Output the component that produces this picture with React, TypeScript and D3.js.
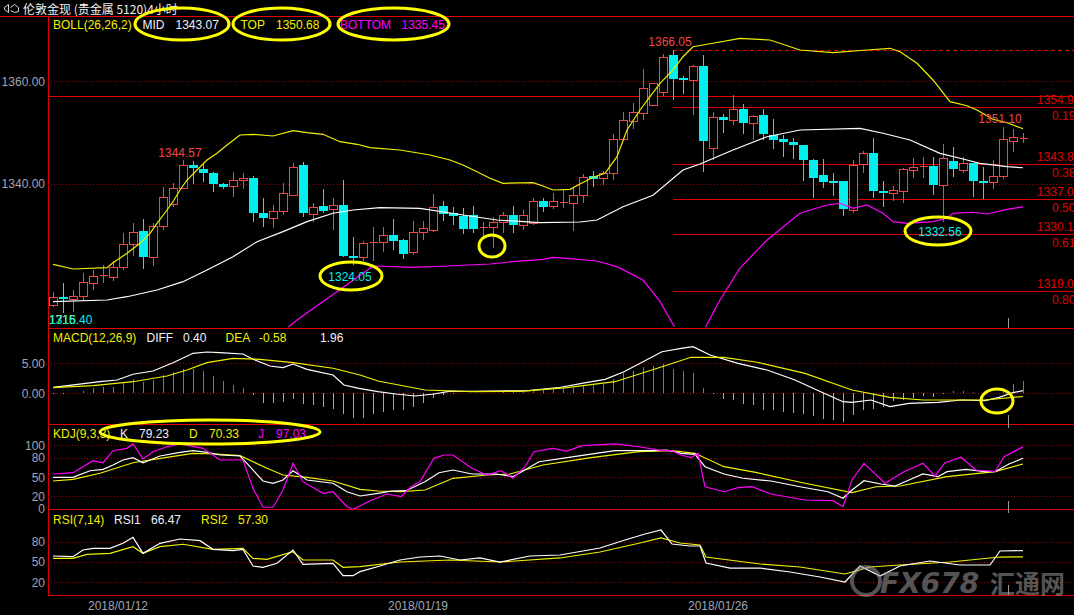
import React, { useEffect } from 'react';
import * as d3 from 'd3';

const W = 1074, H = 615;

// ---------- candles (4h) ----------
const openP = [1316.2,1317.8,1317.6,1317.9,1320.7,1321.9,1321.8,1323.7,1328.2,1330.75,1325.7,1331.8,1336.0,1339.1,1343.6,1342.8,1342.05,1339.9,1339.4,1340.6,1341.0,1334.2,1333.2,1334.6,1337.8,1343.6,1334.2,1335.6,1335.0,1335.8,1325.9,1325.7,1328.35,1328.5,1330.0,1329.0,1326.6,1330.5,1330.9,1335.6,1334.3,1333.7,1333.9,1331.5,1331.6,1332.5,1333.9,1331.9,1332.3,1336.6,1335.5,1336.3,1336.3,1337.6,1341.5,1341.0,1342.0,1348.6,1352.3,1353.8,1355.3,1357.9,1365.1,1360.5,1360.2,1362.9,1346.9,1352.9,1352.3,1354.5,1351.75,1353.4,1349.5,1348.7,1348.05,1347.5,1344.6,1341.7,1340.5,1340.4,1334.8,1343.75,1345.9,1338.55,1338.1,1338.6,1342.8,1343.2,1343.4,1339.6,1344.3,1342.5,1343.95,1340.4,1340.4,1341.3,1348.2,1348.8];
const highP = [1318.8,1320.6,1319.2,1322.5,1323.1,1324.1,1324.8,1330.3,1332.3,1333.1,1332.3,1339.3,1340.05,1344.57,1344.4,1343.75,1342.3,1340.05,1342.2,1342.0,1341.5,1337.1,1335.8,1340.05,1344.0,1344.1,1336.15,1338.9,1337.1,1340.6,1329.6,1328.7,1331.6,1331.5,1333.0,1329.1,1332.6,1332.6,1338.0,1336.5,1335.4,1335.2,1335.6,1332.4,1333.4,1334.4,1335.7,1334.8,1337.1,1337.1,1338.2,1338.9,1339.1,1341.9,1342.45,1342.5,1349.6,1354.0,1355.65,1362.3,1359.6,1365.3,1366.05,1361.0,1363.2,1365.1,1354.0,1353.6,1357.3,1355.5,1353.4,1354.5,1352.6,1349.5,1348.8,1347.5,1344.7,1344.7,1342.1,1340.4,1344.6,1346.35,1348.8,1340.4,1339.5,1343.1,1345.05,1345.25,1345.25,1347.65,1347.2,1345.1,1344.05,1343.3,1344.6,1351.1,1350.6,1349.8];
const lowP = [1316.0,1314.8,1315.0,1317.0,1319.2,1320.6,1320.9,1323.1,1325.9,1323.3,1324.0,1330.9,1335.4,1339.0,1339.9,1340.25,1338.4,1339.0,1337.4,1338.9,1332.4,1331.6,1331.3,1333.9,1337.6,1333.5,1332.45,1334.2,1330.9,1325.6,1324.05,1324.8,1324.8,1326.7,1327.0,1325.2,1326.1,1329.0,1330.6,1332.7,1331.9,1330.2,1330.3,1329.6,1327.4,1330.3,1330.4,1330.9,1331.9,1334.5,1335.0,1335.2,1330.8,1336.2,1339.4,1339.7,1340.7,1348.5,1350.6,1352.4,1355.1,1357.1,1356.2,1357.5,1353.4,1342.3,1344.6,1349.8,1351.4,1349.7,1348.4,1348.5,1346.7,1345.2,1344.8,1340.55,1337.1,1339.1,1337.6,1333.7,1334.2,1342.1,1337.1,1335.5,1336.65,1336.15,1341.0,1341.0,1337.8,1332.56,1341.3,1342.0,1337.4,1337.0,1338.9,1340.8,1346.2,1348.0];
const closeP = [1317.8,1317.5,1318.1,1320.7,1322.0,1322.1,1323.7,1328.2,1330.6,1325.6,1331.8,1337.4,1339.1,1343.6,1343.0,1342.0,1340.0,1339.3,1340.6,1341.0,1334.1,1333.3,1334.6,1338.1,1343.2,1334.3,1335.5,1334.7,1335.8,1325.9,1325.6,1328.35,1328.6,1329.9,1328.9,1326.3,1330.6,1331.3,1335.4,1334.0,1333.8,1331.2,1331.2,1331.6,1332.5,1333.9,1331.9,1333.8,1336.5,1335.5,1336.5,1336.4,1337.8,1341.2,1341.0,1342.0,1348.7,1352.4,1354.0,1358.6,1359.55,1364.7,1360.4,1360.2,1362.9,1348.2,1352.9,1352.3,1354.5,1351.75,1353.2,1349.7,1348.6,1348.05,1347.4,1344.5,1341.0,1340.4,1340.2,1335.0,1343.6,1345.9,1338.4,1338.2,1338.75,1342.8,1343.3,1343.4,1339.6,1344.9,1342.65,1343.95,1340.4,1340.05,1341.5,1348.6,1349.0,1348.85];

// ---------- Bollinger (26,26,2) read at sample bars [barIndex, price] ----------
const bollUpper: [number, number][] = [[0,1324.23],[2,1323.32],[5.4,1323.57],[6,1324.55],[7.4,1326.38],[8.7,1328.33],[9.7,1330.28],[10.4,1332.23],[11.4,1334.83],[12,1336.45],[12.7,1338.73],[13.4,1340.68],[14.4,1342.63],[15.4,1344.59],[16.4,1345.89],[17.4,1347.51],[18.7,1349.46],[20,1349.6],[22,1349.27],[24,1350.3],[25.4,1349.91],[27,1349.6],[28.7,1348.16],[30.4,1347.65],[31.7,1346.99],[34.7,1346.54],[37.7,1345.56],[39.7,1344.59],[41,1343.61],[42.4,1342.3],[43.7,1341.01],[45,1340.04],[48,1340.16],[49,1339.51],[50,1338.73],[51.7,1338.87],[52.7,1339.9],[54,1341.21],[55.2,1341.99],[56.4,1345.23],[57.4,1350.44],[58.7,1354.34],[59.7,1356.94],[60.7,1359.55],[62,1362.15],[63,1364.74],[64,1366.69],[66,1367.36],[68.7,1368.33],[71.7,1368.0],[74.7,1366.05],[78,1365.52],[81.4,1366.05],[83.7,1366.38],[84.7,1365.72],[86.4,1363.45],[88,1360.2],[89.7,1355.96],[91.4,1355.18],[92.4,1354.34],[94,1352.53],[95.4,1351.86],[97,1350.68]];
const bollMid: [number, number][] = [[0,1316.94],[5.4,1317.27],[7.4,1317.91],[10.4,1319.22],[13,1320.84],[15.4,1323.12],[18,1325.72],[20.4,1328.64],[23,1330.6],[25.4,1332.55],[28,1334.19],[30,1334.83],[32.7,1335.28],[36.7,1335.16],[41,1333.85],[44.4,1332.88],[48.7,1332.35],[52.7,1332.49],[54.4,1332.88],[57,1335.47],[60,1337.7],[63,1342.63],[64.7,1343.8],[68,1346.54],[71.4,1349.13],[74.7,1350.44],[80.7,1350.77],[83,1349.8],[85.7,1348.49],[88.7,1345.89],[90.7,1344.92],[92.7,1343.94],[95.4,1343.28],[97,1343.07]];
const bollLower: [number, number][] = [[22,1309.5],[24.4,1313.37],[31.7,1323.45],[32,1323.9],[36,1323.65],[39.4,1323.9],[43.7,1324.29],[46,1324.74],[49,1325.21],[50,1325.6],[51.7,1325.33],[54.4,1324.88],[56.4,1323.77],[59,1321.17],[60.7,1317.0],[62.2,1311.8],[63.7,1308.5],[65.2,1311.8],[66.7,1317.27],[68.7,1323.5],[71.4,1328.98],[74.7,1334.19],[77.4,1335.81],[78.7,1336.14],[80,1335.16],[81.4,1335.81],[83,1334.19],[84,1332.55],[85.4,1332.23],[88,1332.55],[89.4,1333.21],[90,1334.19],[92,1334.39],[93.4,1334.05],[95.4,1334.96],[97,1335.45]];

// ---------- MACD (12,26,9) ----------
const macdHist = [-0.2,-0.1,0,0.3,0.8,0.95,1.05,1.7,2.3,1.9,2.2,3.0,3.55,3.95,4.05,3.67,2.83,2.05,1.33,0.83,-0.3,-1.7,-1.7,-1.55,-1.0,-1.9,-2.0,-2.4,-2.6,-3.5,-4.1,-4.1,-3.5,-3.2,-2.9,-2.9,-2.3,-1.6,-0.9,-0.3,-0.1,0.05,-0.05,0.05,0.05,0.1,0.15,0.2,0.4,0.5,0.6,0.8,0.8,1.3,1.3,1.5,2.3,3.3,3.7,4.3,4.5,4.9,4.0,3.7,3.3,0.8,-0.1,-1.0,-1.2,-1.8,-2.0,-2.8,-2.9,-3.1,-3.4,-3.5,-3.9,-4.3,-4.5,-4.8,-3.7,-2.8,-2.7,-2.4,-1.4,-1.1,-0.9,-0.5,-0.7,-0.2,0.3,0.4,0.1,-0.05,0.05,0.8,1.5,1.96];
const macdDiff: [number, number][] = [[0,0.95],[4.7,1.88],[6.4,2.17],[8,3.12],[10,3.67],[12,5.05],[14,6.62],[15.4,6.83],[16.7,6.72],[19,6.5],[20,5.62],[21.7,4.5],[23,4.22],[24,4.83],[25.4,3.95],[28,3.0],[29.1,1.33],[30.6,0.78],[32.5,0.22],[34.3,-0.17],[36.2,-0.5],[38.1,-0.17],[39.6,0.28],[41.9,0.28],[47.6,0.38],[50.5,0.88],[53.3,1.72],[55.2,2.28],[57.1,3.55],[59,5.22],[60.9,6.88],[62.8,7.45],[64,7.72],[65.7,6.33],[68.5,4.95],[71.4,3.83],[74.2,2.17],[77.1,-0.05],[79,-1.45],[79.9,-1.55],[81.8,-1.17],[83.7,-2.28],[85.6,-1.72],[88.5,-1.55],[90.8,-1.17],[93.2,-1.28],[94.6,-0.72],[96,0.05],[97,0.4]];
const macdDea: [number, number][] = [[0,0.88],[4,1.22],[8,1.88],[11.4,2.83],[13.4,3.83],[15.4,5.05],[18,5.78],[20.7,5.62],[24,5.05],[28,4.12],[30.7,3.0],[32.5,2.0],[37.2,0.5],[41.9,0.22],[46.7,0.28],[51.4,0.88],[56.2,1.88],[60.9,4.38],[63.8,5.95],[67.1,5.95],[70.4,5.12],[75.2,3.28],[79.9,0.5],[83.7,-0.72],[87,-1.17],[93.2,-1.17],[97,-0.58]];

// ---------- KDJ (9,3,3) ----------
const kdjK: [number, number][] = [[0,49.5],[2,49.5],[3.7,59.8],[5,62.0],[6,68.75],[7,76.6],[8,80.2],[9,72.3],[10.7,82.8],[12.7,88.6],[14,91.1],[15.4,88.6],[16.7,84.4],[18.7,82.8],[19.7,66.1],[21,43.75],[22,40.2],[23,45.3],[24,59.8],[25.4,45.3],[28,40.2],[29.4,27.0],[30.7,20.3],[32.5,24.5],[33.9,28.1],[35.3,28.6],[37.2,42.7],[38.6,56.7],[40,60.9],[41.9,54.7],[44.3,54.7],[46,50.5],[46.7,56.7],[48.6,73.9],[51.4,80.2],[54.3,87.0],[56.2,91.1],[60,91.1],[61.4,92.2],[62.8,87.0],[64.2,85.5],[65.2,66.1],[67.1,54.7],[69,48.0],[71.8,43.75],[74.7,34.8],[77.5,27.0],[79,16.7],[79.9,29.7],[81.1,44.2],[82.8,39.1],[84.2,35.9],[85.6,45.3],[87,54.7],[88.5,50.5],[89.4,58.3],[91.3,62.0],[93.2,58.3],[94.2,58.3],[95.6,70.3],[97,79.23]];
const kdjD: [number, number][] = [[0,43.75],[2,46.4],[4.7,55.8],[8,72.3],[11.4,80.8],[14,87.0],[16.4,85.9],[18.7,83.3],[21.4,63.6],[23,53.1],[25.4,49.5],[28,43.75],[30.7,30.8],[32.5,28.1],[34.8,27.0],[37.2,29.7],[40,48.0],[43.4,53.1],[45.7,54.7],[49,68.75],[53.8,80.2],[58.6,89.5],[61.9,91.1],[64.2,87.0],[67.1,66.1],[70.4,56.7],[75.2,40.2],[79.9,25.5],[82.3,34.8],[84.7,35.9],[89.4,50.5],[94.2,58.3],[97,70.33]];
const kdjJ: [number, number][] = [[0,54.7],[2,56.7],[4,75.5],[5,72.3],[6,91.1],[7.4,94.8],[8,101.6],[9,78.1],[10,89.5],[11.4,97.3],[12.7,101.6],[15,94.8],[16.7,76.6],[19,76.6],[20,32.3],[21,2.7],[22,2.7],[23,29.7],[24,71.4],[25,42.7],[27,24.5],[28,27.0],[29.4,3.6],[30,-0.5],[30.7,4.7],[31.5,11.4],[33.4,23.4],[34.8,19.2],[35.8,34.8],[36.7,42.7],[38.1,79.2],[39.1,84.4],[40,84.4],[41.9,63.6],[43.4,53.1],[44.8,59.8],[46,48.0],[47.2,66.1],[48.1,89.5],[50,94.8],[51.4,90.6],[52.9,98.9],[56.2,101.6],[58.6,97.3],[60.9,91.1],[61.9,91.1],[62.8,84.4],[63.8,80.2],[64.5,87.0],[65.2,34.8],[67.1,27.0],[68.5,33.3],[69.9,34.8],[71.8,23.4],[75.2,14.1],[78,13.0],[79,3.6],[79.9,45.3],[81.1,71.4],[83.2,40.2],[85.1,58.3],[87,71.4],[88.2,51.6],[89.2,72.3],[90.8,80.8],[92.3,60.9],[94.2,58.3],[95.1,81.7],[97,97.03]];

// ---------- RSI (7,14) ----------
const rsi1: [number, number][] = [[0,58.5],[2,57.5],[3,67.4],[4,69.9],[5.7,69.9],[7,77.3],[8,86.2],[9,62.5],[10.7,77.3],[12.7,83.7],[14.7,81.2],[16,68.4],[18,66.4],[19,68.4],[20,43.7],[21,41.8],[22.4,47.7],[24,67.4],[25,46.2],[28,47.7],[29,29.3],[30,29.3],[30.7,35.3],[32.7,43.7],[34.7,52.6],[36.7,57.0],[38.7,58.5],[40.7,52.6],[42.7,55.6],[44.7,49.6],[47.7,58.5],[50.7,60.0],[54.7,70.4],[57.2,82.2],[59.2,91.1],[60.8,97.0],[61.9,76.3],[63.7,73.3],[64.7,73.3],[65.3,48.1],[67.7,40.7],[70.7,40.7],[73.7,34.8],[76.7,27.4],[79.2,20.0],[80.7,43.7],[82.7,28.9],[84.7,43.7],[87.7,51.1],[90.7,45.2],[93.7,45.2],[94.7,65.9],[97,66.47]];
const rsi2: [number, number][] = [[0,55.1],[2,55.1],[3.4,61.0],[5.7,62.5],[8,72.3],[9,62.5],[10.7,72.3],[13,75.9],[16,68.4],[19,69.9],[20,55.1],[21.4,53.6],[24,64.9],[25,52.6],[28,52.6],[29,41.8],[30.7,42.7],[34.7,49.6],[39.7,52.6],[44.7,49.6],[50.7,55.6],[54.7,64.4],[58.7,77.8],[60.8,85.2],[62.7,77.8],[64.7,74.8],[65.3,57.0],[70.7,46.7],[74.7,42.2],[79.2,31.9],[81.7,42.2],[84.7,45.2],[89.7,49.6],[94.7,57.0],[97,57.3]];

// ---------- ticks / labels ----------
const priceTicks = [1360, 1340];
const macdTicks = [5, 0];
const kdjTicks = [100, 80, 50, 20, 0];
const rsiTicks = [80, 50, 20];
const dateLabels = ['2018/01/12', '2018/01/19', '2018/01/26'];
const dateIdx = [6.5, 36.5, 66.5];
const fibHigh = 1366.05, fibLow = 1307.95, fibStart = 62;
const fibRatios = [0, 0.191, 0.382, 0.5, 0.618, 0.809];
const fibRatioText = ['', '0.191', '0.382', '0.500', '0.618', '0.809'];
const userLine = 1357.07;

const RED = '#f04848';
const CYAN = '#00f0f0';
const LINE = '#e00000';
const GRID = '#a00000';
const AX = '#a0a4b4';
const YEL = '#f0f000';
const MAG = '#ff00ff';
const FONT = "'Liberation Sans', Arial, sans-serif";

export default function App() {
  useEffect(() => {
    document.body.style.margin = '0';
    document.body.style.background = '#000';
  }, []);

  const L = 48, R = W;
  const x = d3.scaleLinear().domain([0, 97]).range([53, 1023]);
  const yM = d3.scaleLinear().domain([1340, 1360]).range([183.5, 81]);
  const yMacd = d3.scaleLinear().domain([0, 5]).range([393, 363]);
  const yK = d3.scaleLinear().domain([0, 100]).range([509, 445]);
  const yR = d3.scaleLinear().domain([20, 80]).range([582, 541.5]);

  const mk = (ys: d3.ScaleLinear<number, number>) =>
    d3.line<[number, number]>().x(d => x(d[0])).y(d => ys(d[1]));

  const lineM = mk(yM), lineMacd = mk(yMacd), lineK = mk(yK), lineR = mk(yR);

  const hline = (y: number, key: string, color = LINE, x1 = L, x2 = R, dash?: string) => (
    <line key={key} x1={x1} x2={x2} y1={y} y2={y} stroke={color} strokeWidth={1} strokeDasharray={dash} shapeRendering="crispEdges" />
  );

  const fibPrices = fibRatios.map(r => fibHigh - r * (fibHigh - fibLow));

  return (
    <svg width={W} height={H} style={{ position: 'absolute', left: 0, top: 0, background: '#000', display: 'block' }} fontFamily={FONT} fontSize={12}>
      <defs>
        <clipPath id="cMain"><rect x={L + 1} y={17} width={R - L} height={310} /></clipPath>
        <clipPath id="cMacd"><rect x={L + 1} y={329} width={R - L} height={94} /></clipPath>
        <clipPath id="cKdj"><rect x={L + 1} y={425} width={R - L} height={84} /></clipPath>
        <clipPath id="cRsi"><rect x={L + 1} y={511} width={R - L} height={83} /></clipPath>
      </defs>
      <rect x={0} y={0} width={W} height={H} fill="#000" />

      {/* title */}
      <g stroke="#d8d8d8" fill="none" strokeWidth={1}>
        <path d="M4.5,7.5 L8.5,4.5 L8.5,12.5 L4.5,9.5 Z" />
        <path d="M10.5,7.5 L14.5,4.5 L18.5,7.5 L18.5,11.5 L14.5,12.5 L10.5,10.5" />
      </g>
      <text x={23} y={14} fill="#f0f0f0" fontSize={12} fontFamily="'Noto Sans CJK SC', sans-serif">伦敦金现 (贵金属 5120)4小时</text>

      {/* frame lines */}
      {hline(16.5, 't0', LINE, 0, R)}
      <line x1={48.5} x2={48.5} y1={16} y2={595} stroke={LINE} shapeRendering="crispEdges" />
      {hline(328.5, 'b1')}
      {hline(424.5, 'b2')}
      {hline(509.5, 'b3')}
      {hline(595.5, 'b4')}

      {/* grids */}
      {priceTicks.map(p => hline(Math.round(yM(p)) + 0.5, 'gp' + p, GRID, L, R, '1 2'))}
      {macdTicks.map(p => hline(Math.round(yMacd(p)) + 0.5, 'gm' + p, GRID, L, R, '1 2'))}
      {kdjTicks.filter(v => v > 0).map(p => hline(Math.round(yK(p)) + 0.5, 'gk' + p, GRID, L, R, '1 2'))}
      {rsiTicks.map(p => hline(Math.round(yR(p)) + 0.5, 'gr' + p, GRID, L, R, '1 2'))}

      {/* axis labels */}
      <g fill={AX} textAnchor="end" fontSize={12}>
        {priceTicks.map(p => <text key={'tp' + p} x={45} y={yM(p) + 4.5}>{p.toFixed(2)}</text>)}
        {macdTicks.map(p => <text key={'tm' + p} x={45} y={yMacd(p) + 4.5}>{p.toFixed(2)}</text>)}
        {kdjTicks.map(p => <text key={'tk' + p} x={45} y={Math.min(yK(p) + 4.5, 513)}>{p}</text>)}
        {rsiTicks.map(p => <text key={'tr' + p} x={45} y={yR(p) + 4.5}>{p}</text>)}
      </g>
      <g fill={AX} textAnchor="middle" fontSize={12}>
        {dateLabels.map((t, k) => <text key={t} x={x(dateIdx[k])} y={610}>{t}</text>)}
      </g>

      {/* user horizontal line & fibonacci */}
      {hline(Math.round(yM(userLine)) + 0.5, 'ul')}
      {fibPrices.map((p, k) => hline(Math.round(yM(p)) + 0.5, 'fib' + k, LINE, x(fibStart), R, k === 0 ? '4 3' : undefined))}
      <g fill={LINE} fontSize={12}>
        {fibPrices.map((p, k) => k === 0 ? null : (
          <g key={'fl' + k}>
            <text x={1037} y={yM(p) - 3}>{p.toFixed(2)}</text>
            <text x={1052} y={yM(p) + 13}>{fibRatioText[k]}</text>
          </g>
        ))}
      </g>

      {/* main panel */}
      <g clipPath="url(#cMain)">
        {openP.map((o, i) => {
          const c = closeP[i], h = highP[i], l = lowP[i];
          const cx = Math.round(x(i)) + 0.5;
          const yt = yM(Math.max(o, c)), yb = yM(Math.min(o, c));
          if (c >= o) {
            return (
              <g key={'c' + i} stroke={RED} shapeRendering="crispEdges">
                <line x1={cx} x2={cx} y1={yM(h)} y2={yt} />
                <line x1={cx} x2={cx} y1={yb} y2={yM(l)} />
                {yb - yt < 1.5
                  ? <line x1={cx - 4} x2={cx + 4} y1={Math.round(yt) + 0.5} y2={Math.round(yt) + 0.5} />
                  : <rect x={cx - 4} y={Math.round(yt) + 0.5} width={8} height={Math.round(yb - yt)} fill="#000" />}
              </g>
            );
          }
          return (
            <g key={'c' + i} shapeRendering="crispEdges">
              <line x1={cx} x2={cx} y1={yM(h)} y2={yM(l)} stroke={CYAN} />
              <rect x={cx - 4.5} y={Math.round(yt)} width={9} height={Math.max(2, Math.round(yb - yt))} fill={CYAN} />
            </g>
          );
        })}
        <path d={lineM(bollUpper) || ''} fill="none" stroke={YEL} strokeWidth={1.2} />
        <path d={lineM(bollMid) || ''} fill="none" stroke="#ffffff" strokeWidth={1.2} />
        <path d={lineM(bollLower) || ''} fill="none" stroke={MAG} strokeWidth={1.2} />
      </g>

      {/* price annotations */}
      <g fontSize={12} textAnchor="middle">
        <text x={x(13) - 3} y={yM(1344.57) - 3} fill={RED}>1344.57</text>
        <text x={x(62) - 3} y={yM(1366.05) - 4} fill={RED}>1366.05</text>
        <text x={x(95) - 3} y={yM(1351.1) - 3.5} fill={RED}>1351.10</text>
        <text x={x(30) - 3} y={yM(1324.05) + 16} fill={CYAN}>1324.05</text>
        <text x={x(89) - 3} y={yM(1332.56) + 14} fill={CYAN}>1332.56</text>
      </g>
      <text x={49} y={324} fill={YEL} fontSize={12}>1715</text>
      <text x={49} y={324} fill={CYAN} fontSize={12}>1316.40</text>

      {/* boll header */}
      <g fontSize={12}>
        <text x={53} y={28.5} fill={YEL}>BOLL(26,26,2)</text>
        <text x={142.5} y={28.5} fill="#f0f0ff">MID</text>
        <text x={175.5} y={28.5} fill="#f0f0ff">1343.07</text>
        <text x={240.5} y={28.5} fill={YEL}>TOP</text>
        <text x={276} y={28.5} fill={YEL}>1350.68</text>
        <text x={340} y={28.5} fill={MAG}>BOTTOM</text>
        <text x={401.5} y={28.5} fill={MAG}>1335.45</text>
      </g>

      {/* MACD panel */}
      <g clipPath="url(#cMacd)">
        {macdHist.map((v, i) => (
          <line key={'h' + i} x1={Math.round(x(i)) + 0.5} x2={Math.round(x(i)) + 0.5} y1={yMacd(0)} y2={yMacd(v)}
            stroke={v >= 0 ? RED : CYAN} shapeRendering="crispEdges" />
        ))}
        <path d={lineMacd(macdDiff) || ''} fill="none" stroke="#ffffff" strokeWidth={1.2} />
        <path d={lineMacd(macdDea) || ''} fill="none" stroke={YEL} strokeWidth={1.2} />
      </g>
      <g fontSize={12}>
        <text x={53} y={341.5} fill={YEL}>MACD(12,26,9)</text>
        <text x={146.5} y={341.5} fill="#f0f0ff">DIFF</text>
        <text x={183} y={341.5} fill="#f0f0ff">0.40</text>
        <text x={225.5} y={341.5} fill={YEL}>DEA</text>
        <text x={259} y={341.5} fill={YEL}>-0.58</text>
        <text x={320} y={341.5} fill="#f0f0ff">1.96</text>
      </g>

      {/* KDJ panel */}
      <g clipPath="url(#cKdj)">
        <path d={lineK(kdjD) || ''} fill="none" stroke={YEL} strokeWidth={1.2} />
        <path d={lineK(kdjK) || ''} fill="none" stroke="#ffffff" strokeWidth={1.2} />
        <path d={lineK(kdjJ) || ''} fill="none" stroke={MAG} strokeWidth={1.2} />
      </g>
      <g fontSize={12}>
        <text x={53} y={437.5} fill={YEL}>KDJ(9,3,3)</text>
        <text x={120} y={437.5} fill="#f0f0ff">K</text>
        <text x={139} y={437.5} fill="#f0f0ff">79.23</text>
        <text x={189} y={437.5} fill={YEL}>D</text>
        <text x={209} y={437.5} fill={YEL}>70.33</text>
        <text x={258} y={437.5} fill={MAG}>J</text>
        <text x={276} y={437.5} fill={MAG}>97.03</text>
      </g>

      {/* RSI panel */}
      <g clipPath="url(#cRsi)">
        <path d={lineR(rsi2) || ''} fill="none" stroke={YEL} strokeWidth={1.2} />
        <path d={lineR(rsi1) || ''} fill="none" stroke="#ffffff" strokeWidth={1.2} />
      </g>
      <g fontSize={12}>
        <text x={53} y={523.5} fill={YEL}>RSI(7,14)</text>
        <text x={114} y={523.5} fill="#f0f0ff">RSI1</text>
        <text x={151} y={523.5} fill="#f0f0ff">66.47</text>
        <text x={201} y={523.5} fill={YEL}>RSI2</text>
        <text x={238} y={523.5} fill={YEL}>57.30</text>
      </g>

      {/* cursor ticks */}
      <g stroke="#9a9a9a" shapeRendering="crispEdges">
        <line x1={1008.5} x2={1008.5} y1={318} y2={328} />
        <line x1={1008.5} x2={1008.5} y1={415} y2={428} />
        <line x1={1008.5} x2={1008.5} y1={501} y2={513} />
        <line x1={1008.5} x2={1008.5} y1={585} y2={595} />
      </g>

      {/* watermark */}
      <g opacity={0.55} fill="#9a9a9a">
        <circle cx={866} cy={581} r={14} fill="none" stroke="#9a9a9a" strokeWidth={4} />
        <text x={880} y={593} fontSize={28} fontWeight="bold" fontStyle="italic" fontFamily="'DejaVu Sans', sans-serif">FX678</text>
        <text x={990} y={593} fontSize={25} fontWeight="bold" fontFamily="'Noto Sans CJK SC', sans-serif">汇通网</text>
      </g>

      {/* yellow highlight ellipses */}
      <g fill="none" stroke="#ffff00" strokeWidth={3}>
        <ellipse cx={182} cy={24} rx={47} ry={16} />
        <ellipse cx={281.5} cy={24} rx={48.5} ry={16} />
        <ellipse cx={393.5} cy={24} rx={55.5} ry={16} />
        <ellipse cx={351} cy={276} rx={31} ry={14} />
        <ellipse cx={492} cy={246} rx={13} ry={11} />
        <ellipse cx={938} cy={231} rx={33} ry={14} />
        <ellipse cx={997} cy={401} rx={16} ry={12} />
        <ellipse cx={210} cy={432} rx={110} ry={12} />
      </g>
    </svg>
  );
}
